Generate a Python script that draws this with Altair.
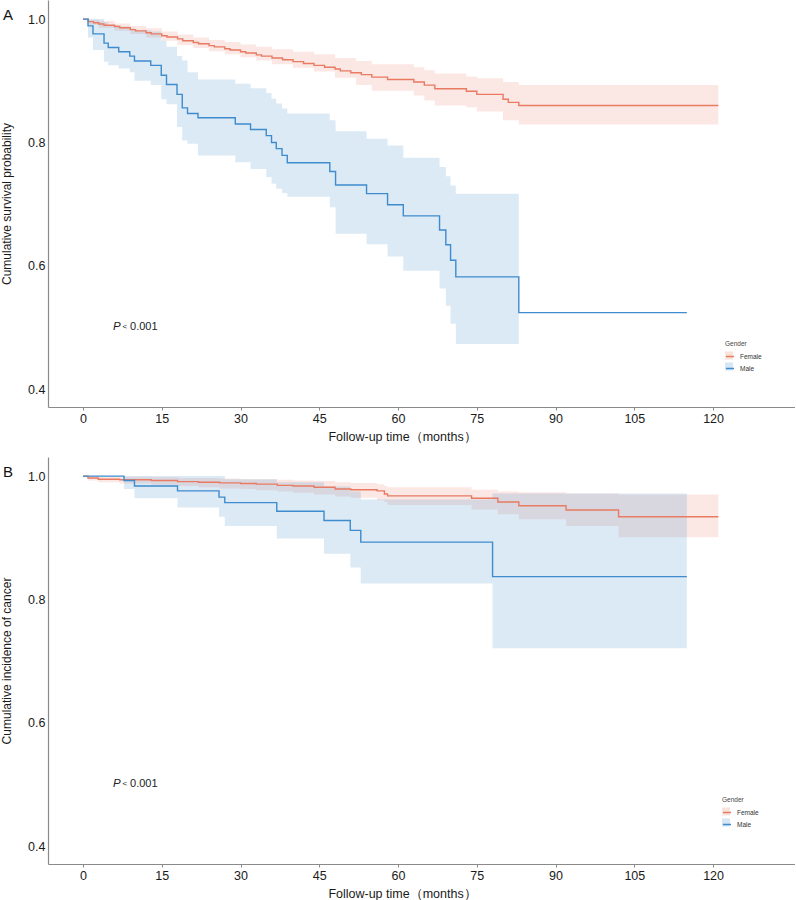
import altair as alt
import pandas as pd

# ---------------- Panel A: overall survival ----------------
a_female_t = [0, 1, 2, 3, 4, 6, 7, 9, 10, 12, 13, 15, 16, 18, 19, 21, 22, 24, 25, 27, 28, 30, 31, 33, 34,
              36, 38, 40, 42, 44, 46, 48, 49, 51, 53, 55, 58, 63, 65, 67, 73, 75, 80, 81, 83, 121]
a_female_s = [1.0, 0.996, 0.994, 0.992, 0.990, 0.988, 0.986, 0.983, 0.981, 0.978, 0.976, 0.973, 0.971,
              0.968, 0.965, 0.962, 0.960, 0.957, 0.955, 0.952, 0.950, 0.947, 0.945, 0.942, 0.940, 0.937,
              0.934, 0.931, 0.928, 0.925, 0.922, 0.919, 0.916, 0.913, 0.910, 0.906, 0.902, 0.898, 0.893,
              0.887, 0.883, 0.878, 0.870, 0.865, 0.860, 0.860]
a_female_band_t = [0, 1, 3, 6, 9, 12, 15, 18, 21, 24, 27, 30, 33, 36, 40, 44, 48, 52, 55, 63, 65, 67, 73,
                   75, 80, 83, 121]
a_female_lo = [1.0, 0.991, 0.986, 0.981, 0.976, 0.970, 0.965, 0.958, 0.953, 0.948, 0.943, 0.938, 0.933,
               0.927, 0.921, 0.915, 0.905, 0.893, 0.884, 0.876, 0.868, 0.860, 0.857, 0.850, 0.836, 0.829,
               0.829]
a_female_hi = [1.0, 0.999, 0.997, 0.993, 0.989, 0.985, 0.980, 0.975, 0.970, 0.966, 0.963, 0.959, 0.955,
               0.951, 0.947, 0.943, 0.937, 0.932, 0.927, 0.922, 0.917, 0.912, 0.907, 0.904, 0.898, 0.893,
               0.893]

a_male_t = [0, 0.95, 1.9, 4.0, 4.8, 6.8, 8.9, 9.8, 12.9, 14.9, 15.9, 17.9, 18.9, 19.9, 21.9, 29, 31.9,
            34.9, 35.9, 36.8, 37.9, 38.9, 47, 48.1, 54, 58, 61, 67.9, 69.1, 70, 71, 83, 115]
a_male_s = [1.0, 0.989, 0.976, 0.961, 0.954, 0.947, 0.940, 0.932, 0.925, 0.909, 0.894, 0.878, 0.856,
            0.847, 0.840, 0.830, 0.821, 0.811, 0.800, 0.790, 0.779, 0.767, 0.753, 0.731, 0.717, 0.699,
            0.681, 0.658, 0.634, 0.609, 0.582, 0.524, 0.524]
a_male_band_t = [0, 0.95, 1.9, 4.0, 4.8, 6.8, 8.9, 9.8, 12.9, 14.9, 15.9, 17.9, 18.9, 19.9, 21.9, 29, 31.9,
                 34.9, 35.9, 36.8, 37.9, 38.9, 47, 48.1, 54, 58, 61, 67.9, 69.1, 70, 71, 83]
a_male_lo = [1.0, 0.970, 0.950, 0.931, 0.925, 0.920, 0.914, 0.900, 0.893, 0.870, 0.862, 0.825, 0.803,
             0.798, 0.779, 0.768, 0.757, 0.744, 0.733, 0.725, 0.718, 0.712, 0.695, 0.652, 0.635, 0.615,
             0.592, 0.563, 0.535, 0.506, 0.473, 0.473]
a_male_hi = [1.0, 1.0, 1.0, 0.995, 0.990, 0.988, 0.985, 0.982, 0.980, 0.965, 0.955, 0.940, 0.933,
             0.914, 0.902, 0.895, 0.888, 0.880, 0.871, 0.863, 0.855, 0.847, 0.836, 0.818, 0.806, 0.795,
             0.775, 0.760, 0.745, 0.730, 0.717, 0.717]

# ---------------- Panel B: cancer incidence ----------------
b_female_t = [0, 0.95, 2.9, 7, 13, 18, 22, 26, 30, 33, 37, 40, 44, 48, 51, 56, 57.4, 58, 74, 79, 83, 92,
              102, 121]
b_female_s = [1.0, 0.997, 0.995, 0.994, 0.993, 0.991, 0.990, 0.989, 0.988, 0.987, 0.985, 0.984, 0.982,
              0.979, 0.978, 0.976, 0.971, 0.968, 0.964, 0.958, 0.952, 0.945, 0.934, 0.934]
b_female_lo = [1.0, 0.993, 0.990, 0.988, 0.986, 0.984, 0.982, 0.980, 0.979, 0.977, 0.975, 0.973, 0.970,
               0.967, 0.965, 0.961, 0.958, 0.953, 0.946, 0.938, 0.930, 0.919, 0.901, 0.901]
b_female_hi = [1.0, 1.0, 0.999, 0.999, 0.998, 0.997, 0.997, 0.996, 0.995, 0.995, 0.994, 0.993, 0.992,
               0.990, 0.989, 0.987, 0.984, 0.982, 0.978, 0.975, 0.974, 0.972, 0.970, 0.969]

b_male_t = [0, 7.8, 9.8, 18, 25.9, 27, 36.9, 45.9, 50.9, 52.9, 78, 115]
b_male_s = [1.0, 0.993, 0.984, 0.976, 0.966, 0.957, 0.943, 0.928, 0.912, 0.893, 0.837, 0.837]
b_male_lo = [1.0, 0.979, 0.964, 0.949, 0.934, 0.919, 0.899, 0.874, 0.852, 0.826, 0.721, 0.721]
b_male_hi = [1.0, 1.0, 1.0, 1.0, 1.0, 0.995, 0.990, 0.983, 0.975, 0.962, 0.972, 0.972]

groups = ["Female", "Male"]
line_colors = ["#E97B63", "#3E8BCD"]

x_domain = [-6.67, 135.6]
x_ticks = [0, 15, 30, 45, 60, 75, 90, 105, 120]
y_domain = [0.371, 1.031]
y_ticks = [0.4, 0.6, 0.8, 1.0]
x_title = "Follow-up time（months）"
p_label = ["P", "<", "0.001"]
p_pos = [5.71, 7.5, 8.95]

FONT = "Liberation Sans"
W, H = 747, 407
LEG_FS = 6.5
LEG_TP = 4


def lines_df(t1, s1, t2, s2):
    return pd.concat([
        pd.DataFrame({"t": t1, "s": s1, "Gender": "Female"}),
        pd.DataFrame({"t": t2, "s": s2, "Gender": "Male"}),
    ])


def bands_df(t1, lo1, hi1, t2, lo2, hi2):
    return pd.concat([
        pd.DataFrame({"t": t1, "lo": lo1, "hi": hi1, "Gender": "Female"}),
        pd.DataFrame({"t": t2, "lo": lo2, "hi": hi2, "Gender": "Male"}),
    ])


def xenc():
    return alt.X("t:Q", scale=alt.Scale(domain=x_domain, nice=False, zero=False),
                 axis=alt.Axis(values=x_ticks, title=x_title, titleX=354, titlePadding=6,
                               tickSize=3, labelPadding=2, labelFontSize=12.5, titleFontSize=12.5,
                               grid=False))


def yenc(field, title):
    return alt.Y(f"{field}:Q", scale=alt.Scale(domain=y_domain, nice=False, zero=False),
                 axis=alt.Axis(values=y_ticks, format=".1f", title=title, ticks=False,
                               labelPadding=3, labelFontSize=12.5, titleFontSize=12,
                               titleX=-47, titleY=H / 2, titleAngle=270, titleBaseline="top",
                               titleAlign="center", grid=False))


def panel(ldf, bdf, ytitle, letter, lx, ly):
    band = alt.Chart(bdf).mark_area(interpolate="step-after", fillOpacity=0.18).encode(
        x=xenc(), y=yenc("lo", ytitle), y2="hi:Q",
        fill=alt.Fill("Gender:N", scale=alt.Scale(range=line_colors),
                      legend=alt.Legend(orient="none", legendX=lx, legendY=ly + LEG_FS + LEG_TP,
                                        title=None, symbolType="square", symbolSize=64,
                                        symbolOpacity=0.22, symbolStrokeWidth=0, labelExpr="''",
                                        labelFontSize=LEG_FS, rowPadding=3, labelOffset=5)),
    )
    line = alt.Chart(ldf).mark_line(interpolate="step-after", strokeWidth=1.4).encode(
        x=xenc(), y=yenc("s", ytitle),
        stroke=alt.Stroke("Gender:N", scale=alt.Scale(range=line_colors),
                          legend=alt.Legend(orient="none", legendX=lx, legendY=ly, title="Gender",
                                            symbolType="stroke", symbolSize=64, symbolStrokeWidth=1.5,
                                            titleFontSize=LEG_FS, labelFontSize=LEG_FS, rowPadding=3,
                                            titlePadding=LEG_TP, labelOffset=5,
                                            titleFontWeight="normal", titleFont=FONT, labelFont=FONT,
                                            titleColor="#444444", labelColor="#333333")),
    )
    pdf = pd.DataFrame({"t": p_pos, "s": [0.5, 0.5, 0.5], "label": p_label})
    p1 = alt.Chart(pdf.iloc[[0]]).mark_text(align="left", baseline="middle", fontSize=11.5,
                                            fontStyle="italic", font=FONT, color="#222222").encode(
        x=xenc(), y=yenc("s", ytitle), text="label:N")
    p2 = alt.Chart(pdf.iloc[[1]]).mark_text(align="left", baseline="middle", fontSize=8,
                                            font=FONT, color="#222222").encode(
        x=xenc(), y=yenc("s", ytitle), text="label:N")
    p3 = alt.Chart(pdf.iloc[[2]]).mark_text(align="left", baseline="middle", fontSize=11,
                                            font=FONT, color="#222222").encode(
        x=xenc(), y=yenc("s", ytitle), text="label:N")
    ldf2 = pd.DataFrame({"t": [-14.3], "s": [1.007], "label": [letter]})
    let = alt.Chart(ldf2).mark_text(align="center", baseline="middle", fontSize=15, font=FONT,
                                    color="#111111").encode(
        x=xenc(), y=yenc("s", ytitle), text="label:N")
    return alt.layer(band, line, p1, p2, p3, let).properties(width=W, height=H)


pa = panel(lines_df(a_female_t, a_female_s, a_male_t, a_male_s),
           bands_df(a_female_band_t, a_female_lo, a_female_hi, a_male_band_t, a_male_lo, a_male_hi),
           "Cumulative survival probability", "A", 677, 341)
pb = panel(lines_df(b_female_t, b_female_s, b_male_t, b_male_s),
           bands_df(b_female_t, b_female_lo, b_female_hi, b_male_t, b_male_lo, b_male_hi),
           "Cumulative incidence of cancer", "B", 674, 340)

chart = alt.vconcat(pa, pb, spacing=50, bounds="flush").resolve_scale(
    fill="independent", stroke="independent"
).properties(padding=0).configure_view(stroke=None).configure_axis(
    domainColor="#8a8a8a", domainWidth=1.2, tickColor="#8a8a8a", labelColor="#1a1a1a",
    titleColor="#1a1a1a", labelFont=FONT, titleFont=FONT, titleFontWeight="normal"
)

chart.save("out.html", embed_options={"renderer": "svg", "actions": False})
